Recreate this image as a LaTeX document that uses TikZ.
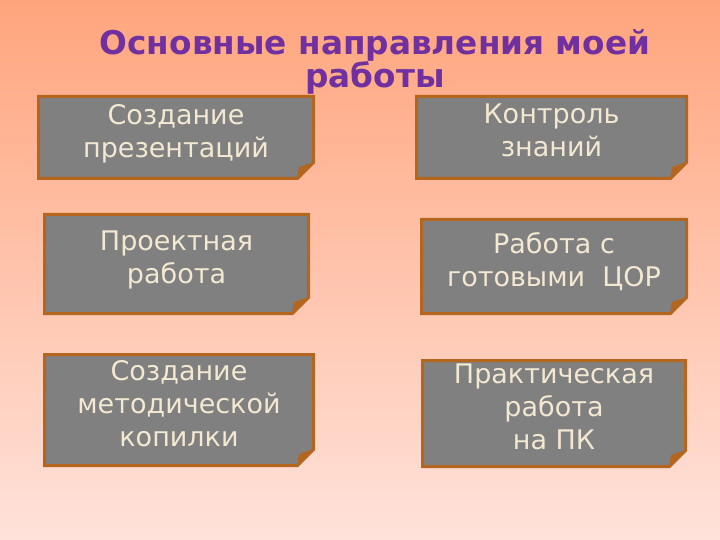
\documentclass[tikz,border=0pt]{standalone}
\usepackage{fontspec}
\setmainfont{DejaVu Sans}
\usetikzlibrary{calc}
\definecolor{bgtop}{HTML}{FFA57D}
\definecolor{bgbot}{HTML}{FFE2DA}
\definecolor{cardfill}{HTML}{808080}
\definecolor{cardedge}{HTML}{B5661E}
\definecolor{cardtext}{HTML}{F3E8D2}
\definecolor{titlecol}{HTML}{7030A0}
\pgfdeclarelayer{back}
\pgfdeclarelayer{cards}
\pgfsetlayers{back,cards,main}
\begin{document}
\begin{tikzpicture}[x=1pt,y=-1pt,
  card/.style={draw=none, text=cardtext, font=\fontsize{27}{33}\selectfont,
    align=center, inner sep=0pt, outer sep=0pt, text depth=14pt},
  cardbody/.style={fill=cardfill, draw=cardedge, line width=3pt, line join=miter},
  fold/.style={fill=cardedge, draw=cardedge, line width=1pt, line join=round},
  title/.style={text=titlecol, font=\fontsize{32.7}{32}\selectfont\bfseries, align=center, inner sep=0pt}]
\begin{pgfonlayer}{back}
  \shade[top color=bgtop, bottom color=bgbot] (0,0) rectangle (720,540);
\end{pgfonlayer}
\useasboundingbox (0,0) rectangle (720,540);

\node[title, anchor=base] (title) at (375,88) {Основные направления моей\\работы};

\node[card, minimum width=275pt, minimum height=82pt]  (c1) at (176,137.5) {Создание\\презентаций};
\node[card, minimum width=270pt, minimum height=82pt]  (c2) at (551.5,137.5) {Контроль\\знаний};
\node[card, minimum width=264pt, minimum height=99pt]  (c3) at (176.5,264) {Проектная\\работа};
\node[card, minimum width=265pt, minimum height=94pt]  (c4) at (554,266.5) {Работа с\\готовыми~~ЦОР};
\node[card, minimum width=269pt, minimum height=111pt] (c5) at (179,410) {Создание\\методической\\копилки};
\node[card, minimum width=263pt, minimum height=106pt] (c6) at (554,413.5) {Практическая\\работа\\на ПК};

\begin{pgfonlayer}{cards}
\foreach \n in {c1,c2,c3,c4,c5,c6}{
  \path[cardbody] (\n.north west) -- (\n.north east) -- ($(\n.south east)+(0,-16)$)
     -- ($(\n.south east)+(-16,0)$) -- (\n.south west) -- cycle;
  \path[fold] ($(\n.south east)+(0,-16)$) -- ($(\n.south east)+(-16,0)$)
     -- ($(\n.south east)+(-14,-11)$) -- cycle;
}
\end{pgfonlayer}
\end{tikzpicture}
\end{document}
